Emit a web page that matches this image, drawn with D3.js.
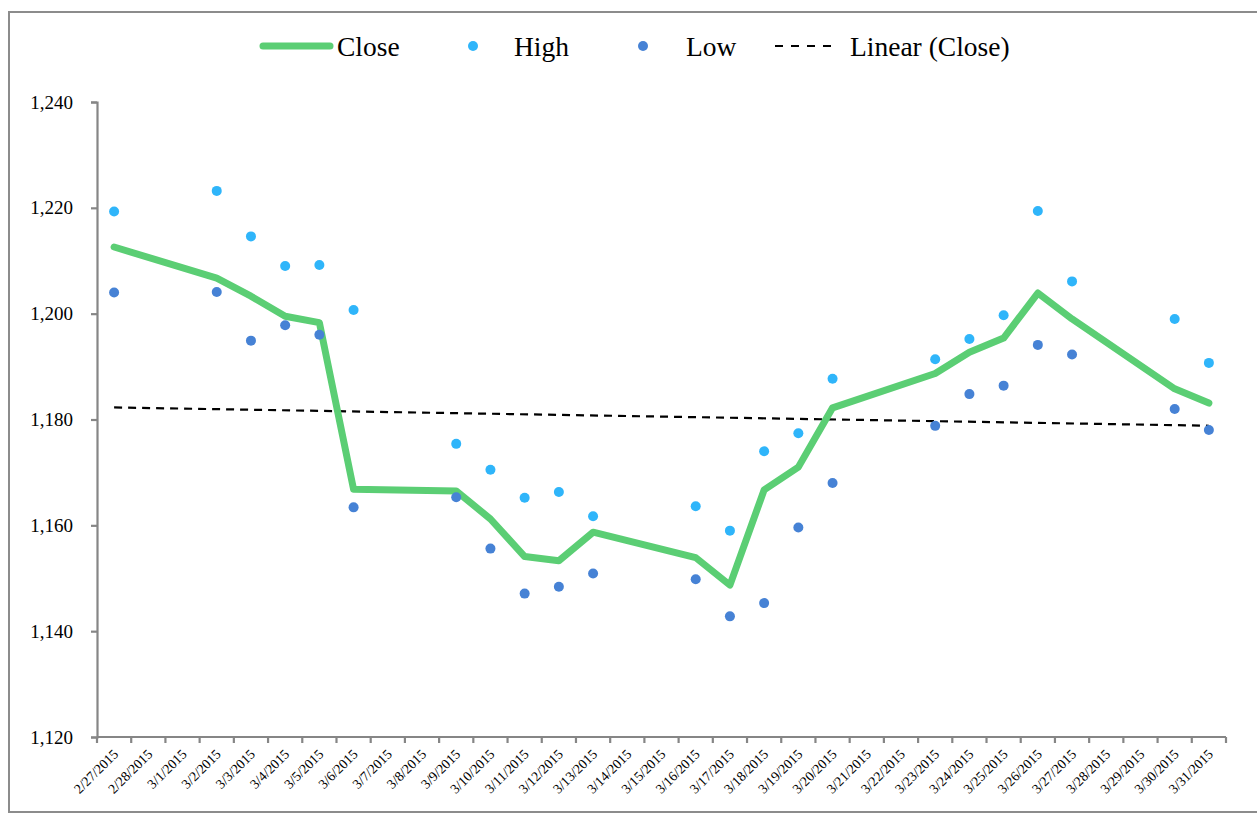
<!DOCTYPE html>
<html>
<head>
<meta charset="utf-8">
<script src="https://cdn.jsdelivr.net/npm/d3@7"></script>
<style>
  body { margin: 0; background: #fff; }
  svg { display: block; font-family: "Liberation Serif", "DejaVu Serif", serif; }
</style>
</head>
<body>
<div class="chart"></div>
<script>
var svgWidth = 1257;
var svgHeight = 815;

// every calendar day on the axis
var days = [];
var start = new Date(2015, 1, 27);
for (var k = 0; k < 33; k++) {
    var dt = new Date(start.getFullYear(), start.getMonth(), start.getDate() + k);
    days.push((dt.getMonth() + 1) + "/" + dt.getDate() + "/" + dt.getFullYear());
}

// trading days only
var dates = ["2/27/2015", "3/2/2015", "3/3/2015", "3/4/2015", "3/5/2015", "3/6/2015",
    "3/9/2015", "3/10/2015", "3/11/2015", "3/12/2015", "3/13/2015",
    "3/16/2015", "3/17/2015", "3/18/2015", "3/19/2015", "3/20/2015",
    "3/23/2015", "3/24/2015", "3/25/2015", "3/26/2015", "3/27/2015",
    "3/30/2015", "3/31/2015"];
var close = [1212.6, 1206.7, 1203.3, 1199.5, 1198.3, 1166.8,
    1166.5, 1161.2, 1154.1, 1153.3, 1158.7,
    1153.9, 1148.7, 1166.7, 1171.0, 1182.2,
    1188.7, 1192.7, 1195.4, 1203.9, 1199.0,
    1185.8, 1183.1];
var high = [1219.3, 1223.2, 1214.6, 1209.0, 1209.2, 1200.7,
    1175.4, 1170.5, 1165.2, 1166.3, 1161.7,
    1163.6, 1159.0, 1174.0, 1177.4, 1187.7,
    1191.4, 1195.2, 1199.7, 1219.4, 1206.1,
    1199.0, 1190.7];
var low = [1204.0, 1204.1, 1194.9, 1197.8, 1196.0, 1163.4,
    1165.3, 1155.6, 1147.1, 1148.4, 1150.9,
    1149.8, 1142.8, 1145.3, 1159.6, 1168.0,
    1178.8, 1184.8, 1186.4, 1194.1, 1192.3,
    1182.0, 1178.0];
var yTicks = [1120, 1140, 1160, 1180, 1200, 1220, 1240];

var margin = { top: 102, right: 31, bottom: 78, left: 97 };
var width = svgWidth - margin.left - margin.right;
var height = svgHeight - margin.top - margin.bottom;

var svg = d3.select(".chart")
    .append("svg")
    .attr("width", svgWidth)
    .attr("height", svgHeight);

// outer frame
svg.append("rect")
    .attr("x", 9)
    .attr("y", 12)
    .attr("width", svgWidth)
    .attr("height", 800)
    .attr("fill", "none")
    .attr("stroke", "#8c8c8c")
    .attr("stroke-width", 2);

var chartGroup = svg.append("g")
    .attr("transform", `translate(${margin.left}, ${margin.top})`);

var xBand = d3.scaleBand().domain(days).range([0, width]);
var xPos = d => xBand(d) + xBand.bandwidth() / 2;
var yLinearScale = d3.scaleLinear().domain([1120, 1240]).range([height, 0]);

// y axis
var leftAxis = d3.axisLeft(yLinearScale)
    .tickValues(yTicks)
    .tickSize(6)
    .tickPadding(18)
    .tickFormat(d3.format(","));
var yAxis = chartGroup.append("g").call(leftAxis);
yAxis.select(".domain").attr("stroke", "#868686").attr("stroke-width", 2.2);
yAxis.selectAll(".tick line").attr("stroke", "#868686").attr("stroke-width", 2.2);
yAxis.selectAll("text")
    .attr("font-size", 19)
    .attr("font-family", "Liberation Serif")
    .attr("fill", "#000");

// x axis: ticks at band edges, labels at centres
var xAxis = chartGroup.append("g").attr("transform", `translate(0,${height})`);
xAxis.append("line")
    .attr("x1", 0).attr("x2", width)
    .attr("stroke", "#868686").attr("stroke-width", 2.2);
xAxis.selectAll(".xt")
    .data(days.concat(["end"]))
    .enter()
    .append("line")
    .attr("x1", (d, i) => i * xBand.bandwidth())
    .attr("x2", (d, i) => i * xBand.bandwidth())
    .attr("y1", 0).attr("y2", 6)
    .attr("stroke", "#868686").attr("stroke-width", 2.2);
xAxis.selectAll(".xl")
    .data(days)
    .enter()
    .append("text")
    .attr("transform", d => `translate(${xPos(d) + 5},${18}) rotate(-45)`)
    .attr("text-anchor", "end")
    .attr("font-size", 13.8)
    .attr("fill", "#000")
    .text(d => d);

// trendline (least squares on calendar day)
var xs = dates.map(d => days.indexOf(d));
var n = xs.length;
var mx = d3.mean(xs), my = d3.mean(close);
var slope = d3.sum(xs, (x, i) => (x - mx) * (close[i] - my)) / d3.sum(xs, x => (x - mx) * (x - mx));
var icpt = my - slope * mx;
var first = days.indexOf(dates[0]), last = days.indexOf(dates[n - 1]);
chartGroup.append("line")
    .attr("x1", xPos(days[first]))
    .attr("x2", xPos(days[last]))
    .attr("y1", yLinearScale(icpt + slope * first))
    .attr("y2", yLinearScale(icpt + slope * last))
    .attr("stroke", "#000")
    .attr("stroke-width", 2.2)
    .attr("stroke-dasharray", "8,6");

// close line
var line = d3.line()
    .x((d, i) => xPos(dates[i]))
    .y(d => yLinearScale(d));
chartGroup.append("path")
    .datum(close)
    .attr("d", line)
    .attr("fill", "none")
    .attr("stroke", "#5bce74")
    .attr("stroke-width", 7)
    .attr("stroke-linejoin", "round")
    .attr("stroke-linecap", "round");

// high / low points
chartGroup.selectAll(".hi")
    .data(high)
    .enter()
    .append("circle")
    .attr("cx", (d, i) => xPos(dates[i]))
    .attr("cy", d => yLinearScale(d))
    .attr("r", 5)
    .attr("fill", "#2fb5fa");
chartGroup.selectAll(".lo")
    .data(low)
    .enter()
    .append("circle")
    .attr("cx", (d, i) => xPos(dates[i]))
    .attr("cy", d => yLinearScale(d))
    .attr("r", 5)
    .attr("fill", "#4682d5");

// legend
var legend = svg.append("g").attr("font-size", 27.5).attr("fill", "#000");
legend.append("line")
    .attr("x1", 263).attr("x2", 330).attr("y1", 46).attr("y2", 46)
    .attr("stroke", "#5bce74").attr("stroke-width", 7).attr("stroke-linecap", "round");
legend.append("text").attr("x", 337).attr("y", 56).text("Close");
legend.append("circle").attr("cx", 473).attr("cy", 46).attr("r", 5).attr("fill", "#2fb5fa");
legend.append("text").attr("x", 514).attr("y", 56).text("High");
legend.append("circle").attr("cx", 643).attr("cy", 46).attr("r", 5).attr("fill", "#4682d5");
legend.append("text").attr("x", 686).attr("y", 56).text("Low");
legend.append("line")
    .attr("x1", 775).attr("x2", 831).attr("y1", 46).attr("y2", 46)
    .attr("stroke", "#000").attr("stroke-width", 2.2).attr("stroke-dasharray", "8,8");
legend.append("text").attr("x", 850).attr("y", 56).text("Linear (Close)");
</script>
</body>
</html>
